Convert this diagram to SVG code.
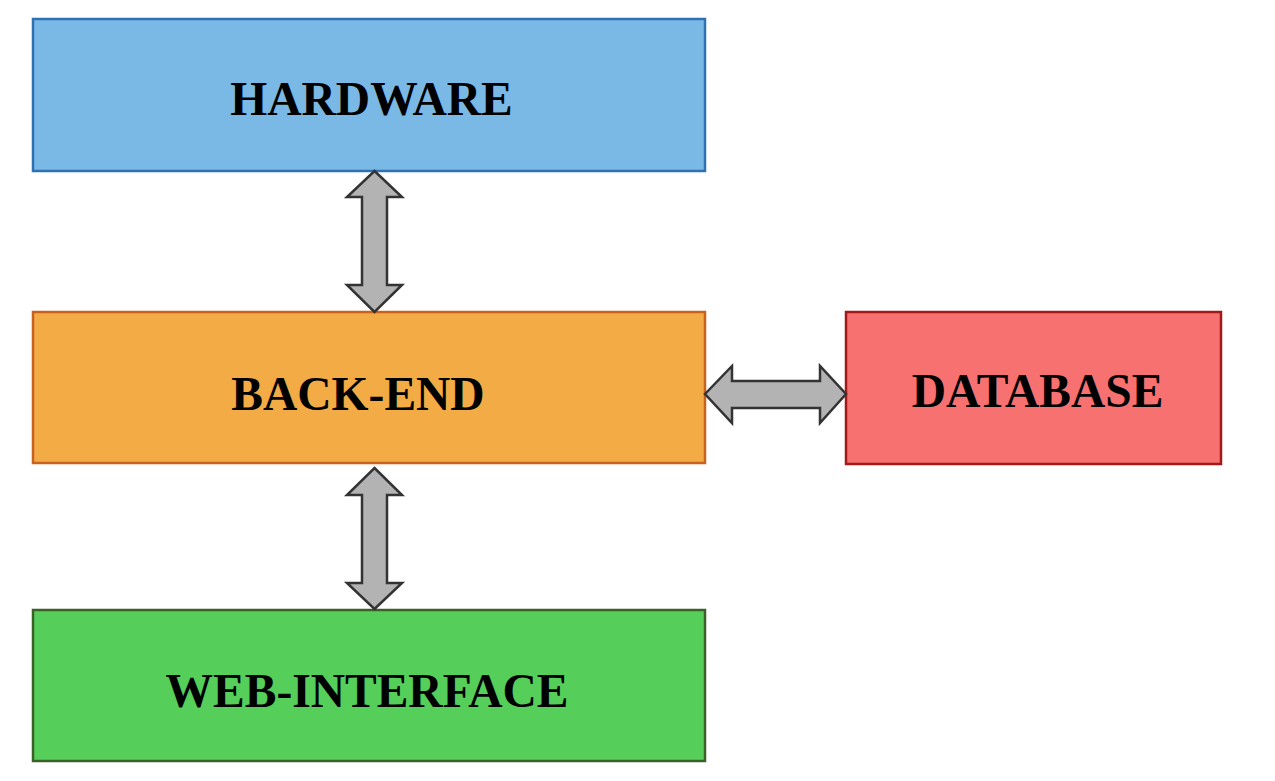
<svg xmlns="http://www.w3.org/2000/svg" width="1275" height="781" viewBox="0 0 1275 781">
<style>
.box{stroke-width:2.5}
.lbl{font-family:"Liberation Serif","Times New Roman",serif;font-weight:bold;font-size:47.5px;fill:#000;text-anchor:middle}
.arr{fill:#b3b3b3;stroke:#333333;stroke-width:2.5;stroke-linejoin:miter}
</style>
<rect width="1275" height="781" fill="#ffffff"/>
<g id="hardware">
<rect class="box" x="33" y="19" width="672" height="152" fill="#7ab8e5" stroke="#2e72b5"/>
<text class="lbl" x="371.5" y="115">HARDWARE</text>
</g>
<g id="backend">
<rect class="box" x="33" y="312" width="672" height="151" fill="#f2ab45" stroke="#c8621c"/>
<text class="lbl" x="358" y="410">BACK-END</text>
</g>
<g id="webinterface">
<rect class="box" x="33" y="610" width="672" height="151" fill="#55cf5a" stroke="#3b6129"/>
<text class="lbl" x="367" y="707">WEB-INTERFACE</text>
</g>
<g id="database">
<rect class="box" x="846" y="312" width="375" height="152" fill="#f87171" stroke="#a31818"/>
<text class="lbl" x="1037.5" y="407">DATABASE</text>
</g>
<g id="connectors">
<polygon class="arr" points="374.5,171 402,197 387,197 387,285 402,285 374.5,312 347,285 362,285 362,197 347,197"/>
<polygon class="arr" points="374.5,468 402,495 387,495 387,583 402,583 374.5,609 347,583 362,583 362,495 347,495"/>
<polygon class="arr" points="705,394 732,366 732,381 820,381 820,366 846,394 820,423 820,408 732,408 732,423"/>
</g>
</svg>
